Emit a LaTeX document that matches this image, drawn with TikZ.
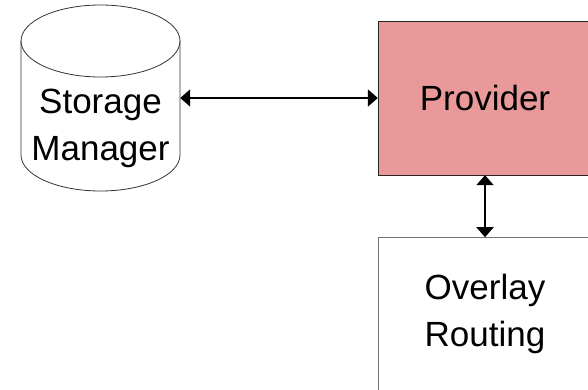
\documentclass[tikz,border=0pt]{standalone}
\usepackage{fontspec}
\setmainfont{Liberation Sans}
\usetikzlibrary{arrows.meta,positioning}
\definecolor{provfill}{RGB}{233,153,153}
\begin{document}
\begin{tikzpicture}
	[x=1pt, y=-1pt,
	font=\fontsize{35}{47}\selectfont,
	block/.style = {draw, minimum width=214pt, minimum height=154pt, align=center, inner sep=0pt},
	store/.style = {minimum width=159pt, minimum height=186pt, inner sep=0pt},
	cyl/.style = {draw=black!80, line width=0.8pt},
	link/.style = {line width=2pt, {Triangle[length=10pt,width=17pt]}-{Triangle[length=10pt,width=17pt]}}]
\clip (0,0) rectangle (588,390);
\fill[white] (0,0) rectangle (588,390);
% storage drum
\node[store] (sm) at (100.5,98) {};
\draw[cyl] (21,41) -- (21,155) arc[start angle=180, end angle=360, x radius=79.5pt, y radius=36pt]
	-- (180,41);
\draw[cyl] (100.5,41) ellipse[x radius=79.5pt, y radius=36pt];
\node[align=center] (smtext) at (100.5,128) {Storage\\Manager};
\node[block, fill=provfill, draw=black!85] (prov) at (485,98) {Provider};
\node[block, draw=black!55] (ovl) [below=62pt of prov] {Overlay\\Routing};
\draw[link] (sm.east) -- (prov.west);
\draw[link] (prov.south) -- (ovl.north);
\end{tikzpicture}
\end{document}
